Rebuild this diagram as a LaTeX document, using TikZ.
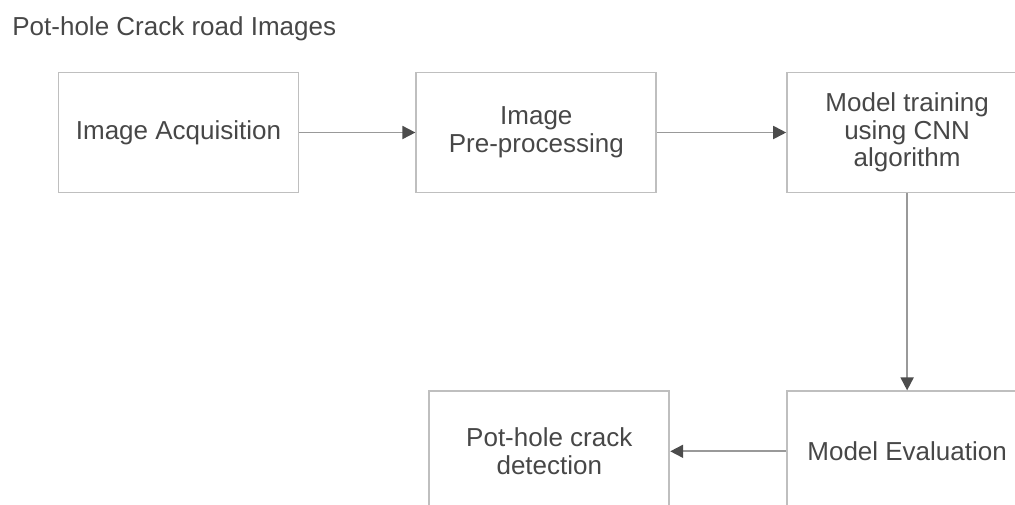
\documentclass[tikz,border=0pt]{standalone}
\usepackage{fontspec}
\setmainfont{Liberation Sans}
\usetikzlibrary
  {
    arrows.meta,              % arrow heads
    positioning,              % place nodes relative to other nodes
  }

\begin{document}
\begin{tikzpicture}
    [
      x=0.5pt, y=-0.5pt,
      node distance=58pt,
      stage/.style=
        {
          rectangle,
          draw=black!25,
          line width=0.9pt,
          minimum width=120pt,
          minimum height=60pt,
          align=center,
          text=black!72,
          font=\fontsize{13pt}{13.8pt}\selectfont,
        },
      flow/.style=
        {
          draw=black!40,
          line width=0.9pt,
          -{Triangle[length=6.5pt,width=6.5pt,color=black!70]},
        },
    ]
    \useasboundingbox (0,0) rectangle (1015,504);
    \node[anchor=base west, inner sep=0pt, text=black!72,
          font=\fontsize{13pt}{13.8pt}\selectfont]
                     (title)  at (12,35)                {Pot-hole Crack road Images};
    \node[stage]     (acquire) at (178.5,132.5)         {Image Acquisition};
    \node[stage]     (preproc) [right=of acquire]      {Image\\Pre-processing};
    \node[stage]     (train)   [right=64.5pt of preproc] {Model training\\using CNN\\algorithm};
    \node[stage]     (evaluate) [below=98.5pt of train] {Model Evaluation};
    \node[stage]     (detect)  [left=of evaluate]      {Pot-hole crack\\detection};

    \draw [flow] (acquire) -- (preproc);
    \draw [flow] (preproc) -- (train);
    \draw [flow] (train) -- (evaluate);
    \draw [flow] (evaluate) -- (detect);
  \end{tikzpicture}
\end{document}
